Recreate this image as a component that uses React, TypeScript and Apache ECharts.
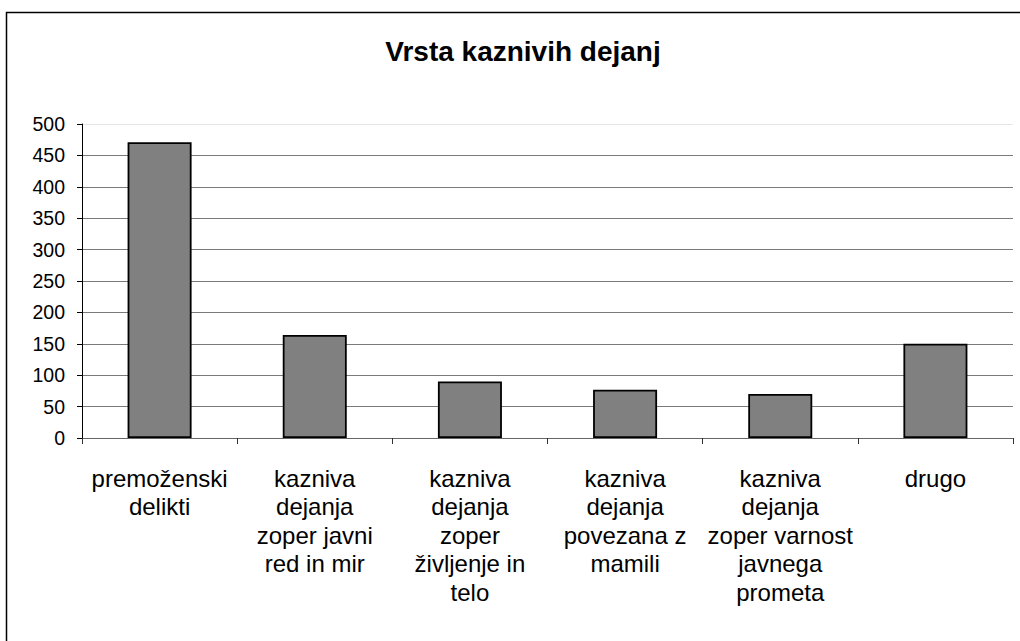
import React, { useEffect, useRef } from "react";
import * as echarts from "echarts";

const title = "Vrsta kaznivih dejanj";
const categories = [
  "premoženski\ndelikti",
  "kazniva\ndejanja\nzoper javni\nred in mir",
  "kazniva\ndejanja\nzoper\nživljenje in\ntelo",
  "kazniva\ndejanja\npovezana z\nmamili",
  "kazniva\ndejanja\nzoper varnost\njavnega\nprometa",
  "drugo",
];
const values = [471, 164, 90, 77, 70, 150];
const yMin = 0;
const yMax = 500;
const yStep = 50;

export default function App() {
  const ref = useRef<HTMLDivElement>(null);
  useEffect(() => {
    if (!ref.current) return;
    const chart = echarts.init(ref.current, null, { renderer: "svg" });
    const gridColors: string[] = [];
    for (let v = yMin; v <= yMax; v += yStep) {
      gridColors.push(v === yMax ? "#e6e6e6" : "#7a7a7a");
    }
    chart.setOption({
      animation: false,
      backgroundColor: "#ffffff",
      title: {
        text: title,
        left: 518,
        top: 32,
        textAlign: "center",
        textStyle: {
          fontFamily: "Liberation Sans, Arial, sans-serif",
          fontSize: 28,
          fontWeight: "bold",
          color: "#000",
        },
      },
      graphic: [
        {
          type: "rect",
          shape: { x: 6.5, y: 12.5, width: 1040, height: 650 },
          style: { fill: "none", stroke: "#000", lineWidth: 1.5 },
          silent: true,
        },
      ],
      grid: { left: 82, right: 7, top: 124, bottom: 203 },
      xAxis: {
        type: "category",
        data: categories,
        boundaryGap: true,
        axisLine: { show: true, lineStyle: { color: "#666", width: 1 } },
        axisTick: { show: true, length: 6, lineStyle: { color: "#333" }, alignWithLabel: false },
        axisLabel: {
          interval: 0,
          margin: 26,
          color: "#000",
          fontFamily: "Liberation Sans, Arial, sans-serif",
          fontSize: 24,
          lineHeight: 28.5,
          align: "center",
          verticalAlign: "top",
        },
        splitLine: { show: false },
      },
      yAxis: {
        type: "value",
        min: yMin,
        max: yMax,
        interval: yStep,
        axisLine: { show: true, lineStyle: { color: "#000", width: 1 } },
        axisTick: { show: true, length: 5, lineStyle: { color: "#000" } },
        axisLabel: {
          margin: 17,
          color: "#000",
          fontFamily: "Liberation Sans, Arial, sans-serif",
          fontSize: 19.5,
        },
        splitLine: { show: true, lineStyle: { color: gridColors, width: 1 } },
      },
      series: [
        {
          type: "bar",
          data: values,
          barWidth: 64,
          itemStyle: { color: "#808080", borderColor: "#000", borderWidth: 1.8 },
        },
      ],
    });
    return () => chart.dispose();
  }, []);
  return (
    <div
      ref={ref}
      style={{ position: "absolute", left: 0, top: 0, width: 1020, height: 641 }}
    />
  );
}
